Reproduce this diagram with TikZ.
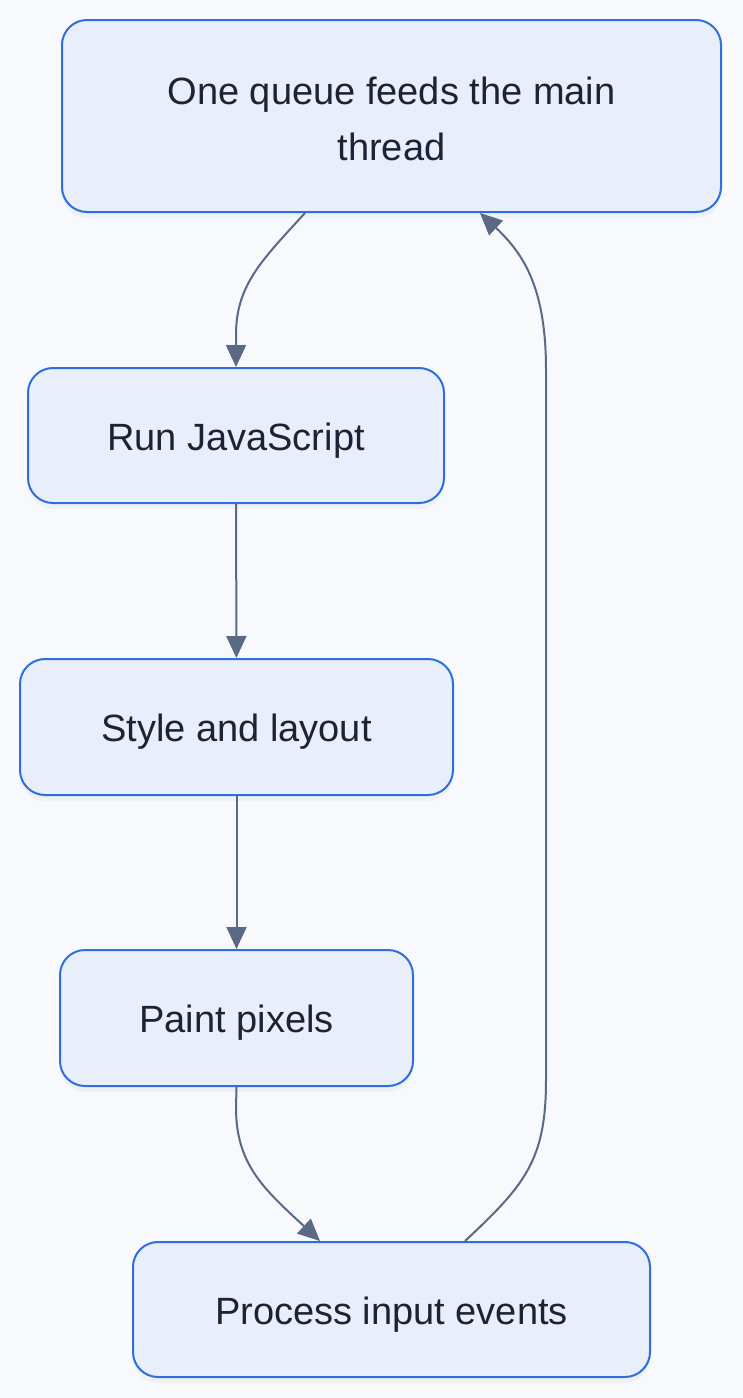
\documentclass[tikz,border=0pt]{standalone}
\usepackage{fontspec}
\setmainfont{Liberation Sans}
\usetikzlibrary{calc,arrows.meta,shadows}
\definecolor{bgcol}{HTML}{F7F9FC}
\definecolor{boxfill}{HTML}{E8EEFA}
\definecolor{boxline}{HTML}{2F6FDB}
\definecolor{edgecol}{HTML}{5B6A84}
\definecolor{txtcol}{HTML}{1B2337}
\tikzset{
  stage/.style={draw=boxline, fill=boxfill, line width=1pt, rounded corners=12.5pt,
    align=center, text=txtcol, font=\fontsize{19}{28}\selectfont,
    text height=14.5pt, text depth=0pt,
    drop shadow={opacity=0.06, shadow xshift=0pt, shadow yshift=-3pt}},
  flow/.style={draw=edgecol, line width=1pt, -{Triangle[length=11pt,width=10pt]}}
}
\begin{document}
\begin{tikzpicture}[x=0.5pt,y=-0.5pt]
      \fill[bgcol] (0,0) rectangle (743,1398);
      \useasboundingbox (0,0) rectangle (743,1398);
      \node[stage, text height=48.7pt, text depth=4pt, minimum width=329.5pt, minimum height=96pt] (queue) at (391.5,116) {One queue feeds the main\\thread};
      \node[stage, minimum width=208pt, minimum height=67.5pt] (js) at (236,435.5) {Run JavaScript};
      \node[stage, minimum width=216.5pt, minimum height=68pt] (layout) at (236.5,727) {Style and layout};
      \node[stage, minimum width=176.5pt, minimum height=68pt] (paint) at (236.5,1018) {Paint pixels};
      \node[stage, minimum width=258.5pt, minimum height=67.5pt] (input) at (391.5,1309.5) {Process input events};
      \draw[flow] ($(queue.south)+(-86.5,0)$) .. controls (262,260) and (236,285) .. (236,335) -- (js.north);
      \draw[flow] (js) -- (layout);
      \draw[flow] (layout) -- (paint);
      \draw[flow] (paint.south) -- (236,1108) .. controls (236,1165) and (265,1190) .. ($(input.north)+(-71.5,0)$);
      \draw[flow] ($(input.north)+(73.5,0)$) .. controls (525,1185) and (546,1160) .. (546,1080) -- (546,370) .. controls (546,290) and (525,255) .. ($(queue.south)+(88.5,0)$);
    \end{tikzpicture}
\end{document}
